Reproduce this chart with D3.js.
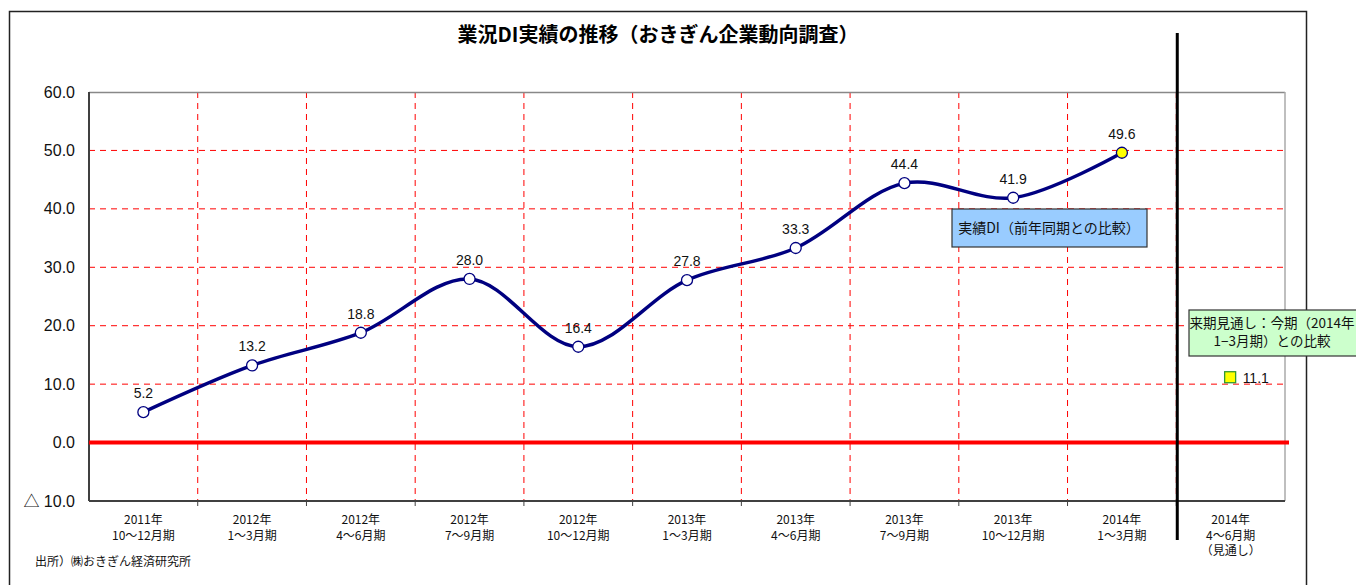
<!DOCTYPE html>
<html><head><meta charset="utf-8">
<script src="https://cdn.jsdelivr.net/npm/d3@7"></script>
<style>
html,body{margin:0;padding:0;background:#fff;}
svg{display:block;}
text{font-family:"Liberation Sans","Noto Sans CJK JP",sans-serif;}
.jp{font-family:"Noto Sans CJK JP","Liberation Sans",sans-serif;}
</style></head>
<body><svg id="chart" width="1356" height="585"></svg>
<script>
const title = "業況DI実績の推移（おきぎん企業動向調査）";
const catLine1 = ["2011年","2012年","2012年","2012年","2012年","2013年","2013年","2013年","2013年","2014年","2014年"];
const catLine2 = ["10～12月期","1～3月期","4～6月期","7～9月期","10～12月期","1～3月期","4～6月期","7～9月期","10～12月期","1～3月期","4～6月期"];
const catLine3 = ["","","","","","","","","","","（見通し）"];
const actualValues = [5.2, 13.2, 18.8, 28.0, 16.4, 27.8, 33.3, 44.4, 41.9, 49.6];
const forecastValue = [11.1];
const yTicks = [-10, 0, 10, 20, 30, 40, 50, 60];
const legendActual = "実績DI（前年同期との比較）";
const legendForecast = ["来期見通し：今期（2014年", "1−3月期）との比較"];
const source = "出所）㈱おきぎん経済研究所";

const svg = d3.select("#chart");
const L = 89, T = 92, R = 1285, B = 501;
const cats = catLine1.map((d,i)=>i);
const x = d3.scaleBand().domain(cats).range([L, R]).padding(0);
const y = d3.scaleLinear().domain([-10, 60]).range([B, T]);
const cx = i => x(i) + x.bandwidth()/2;

// outer frame (no bottom edge)
svg.append("path").attr("d", `M9.5,585 L9.5,11.5 L1306.5,11.5 L1306.5,585`)
  .attr("fill","none").attr("stroke","#222").attr("stroke-width",1.5);

// title
svg.append("text").attr("class","jp").attr("x", 658).attr("y", 42)
  .attr("text-anchor","middle").attr("font-size", 20).attr("font-weight","bold").text(title);

// horizontal grid
svg.append("g").selectAll("line").data(yTicks.filter(d=>d>0 && d<60)).join("line")
  .attr("x1", L).attr("x2", R).attr("y1", d=>y(d)).attr("y2", d=>y(d))
  .attr("stroke","#ff0000").attr("stroke-width",1).attr("stroke-dasharray","6,5");

// vertical grid at category boundaries
svg.append("g").selectAll("line").data(cats.slice(1)).join("line")
  .attr("x1", d=>x(d)).attr("x2", d=>x(d)).attr("y1", T).attr("y2", B)
  .attr("stroke","#ff0000").attr("stroke-width",1).attr("stroke-dasharray","6,5");

// plot border
svg.append("line").attr("x1",L).attr("x2",R).attr("y1",T+0.5).attr("y2",T+0.5).attr("stroke","#888").attr("stroke-width",1.5);
svg.append("line").attr("x1",R).attr("x2",R).attr("y1",T).attr("y2",B).attr("stroke","#aaa").attr("stroke-width",1.5);
svg.append("line").attr("x1",L).attr("x2",L).attr("y1",T).attr("y2",B).attr("stroke","#404040").attr("stroke-width",2);
svg.append("line").attr("x1",L).attr("x2",R).attr("y1",B).attr("y2",B).attr("stroke","#404040").attr("stroke-width",2);

// category tick marks
svg.append("g").selectAll("line").data(cats.slice(1)).join("line")
  .attr("x1", d=>x(d)).attr("x2", d=>x(d)).attr("y1", B).attr("y2", B+5)
  .attr("stroke","#404040").attr("stroke-width",1);

// zero line
svg.append("line").attr("x1",L).attr("x2",R+4).attr("y1",y(0)).attr("y2",y(0))
  .attr("stroke","#ff0000").attr("stroke-width",4);

// y axis
const yAxis = d3.axisLeft(y).tickValues(yTicks).tickSize(0).tickPadding(14)
  .tickFormat(d => d < 0 ? "△ " + Math.abs(d).toFixed(1) : d.toFixed(1));
const gy = svg.append("g").attr("transform", `translate(${L},0)`).call(yAxis);
gy.select(".domain").remove();
gy.selectAll("text").attr("font-size", 16).attr("fill","#111")
  .attr("font-family","Liberation Sans, sans-serif");

// x labels
const gx = svg.append("g");
cats.forEach(i => {
  const t = gx.append("text").attr("class","jp").attr("text-anchor","middle")
    .attr("font-size", 12).attr("fill","#111");
  t.append("tspan").attr("x", cx(i)).attr("y", 524).text(catLine1[i]);
  t.append("tspan").attr("x", cx(i)).attr("y", 539.5).text(catLine2[i]);
  if (catLine3[i]) t.append("tspan").attr("x", cx(i)).attr("y", 555).text(catLine3[i]);
});

// divider between actual and forecast
svg.append("line").attr("x1", x(10)+1).attr("x2", x(10)+1).attr("y1", 33).attr("y2", 540)
  .attr("stroke","#000").attr("stroke-width",3);

// line
const line = d3.line().x((d,i)=>cx(i)).y(d=>y(d)).curve(d3.curveCatmullRom.alpha(0.5));
svg.append("path").datum(actualValues).attr("d", line)
  .attr("fill","none").attr("stroke","#000080").attr("stroke-width",3.5);

// markers
svg.append("g").selectAll("circle").data(actualValues).join("circle")
  .attr("cx",(d,i)=>cx(i)).attr("cy",d=>y(d)).attr("r",5.5)
  .attr("fill",(d,i)=> i===actualValues.length-1 ? "#ffff00" : "#fff")
  .attr("stroke","#000080").attr("stroke-width",1.3);

// data labels
svg.append("g").selectAll("text").data(actualValues).join("text")
  .attr("x",(d,i)=>cx(i)).attr("y",d=>y(d)-14)
  .attr("text-anchor","middle").attr("font-size",14).attr("fill","#111")
  .text(d=>d.toFixed(1));

// forecast marker
const fi = 10;
svg.append("g").selectAll("rect").data(forecastValue).join("rect")
  .attr("x", cx(fi)-6).attr("y", d=>y(d)-6).attr("width",11).attr("height",11)
  .attr("fill","#ffff00").attr("stroke","#339933").attr("stroke-width",1.3);
svg.append("g").selectAll("text").data(forecastValue).join("text")
  .attr("x", cx(fi)+12).attr("y", d=>y(d)+5).attr("font-size",14).attr("fill","#111")
  .text(d=>d.toFixed(1));

// legend boxes
svg.append("rect").attr("x",952).attr("y",209).attr("width",195).attr("height",38)
  .attr("fill","#99ccff").attr("stroke","#333").attr("stroke-width",1.2);
svg.append("text").attr("class","jp").attr("x",1049).attr("y",233).attr("text-anchor","middle")
  .attr("font-size",14).attr("fill","#111").text(legendActual);

svg.append("rect").attr("x",1189).attr("y",310).attr("width",168).attr("height",46)
  .attr("fill","#ccffcc").attr("stroke","#333").attr("stroke-width",1.2);
const lt = svg.append("text").attr("class","jp").attr("text-anchor","middle")
  .attr("font-size",13.5).attr("fill","#111");
lt.append("tspan").attr("x",1272).attr("y",328).text(legendForecast[0]);
lt.append("tspan").attr("x",1272).attr("y",346).text(legendForecast[1]);

// source
svg.append("text").attr("class","jp").attr("x",35).attr("y",566)
  .attr("font-size",12).attr("fill","#111").text(source);
</script>
</body></html>
